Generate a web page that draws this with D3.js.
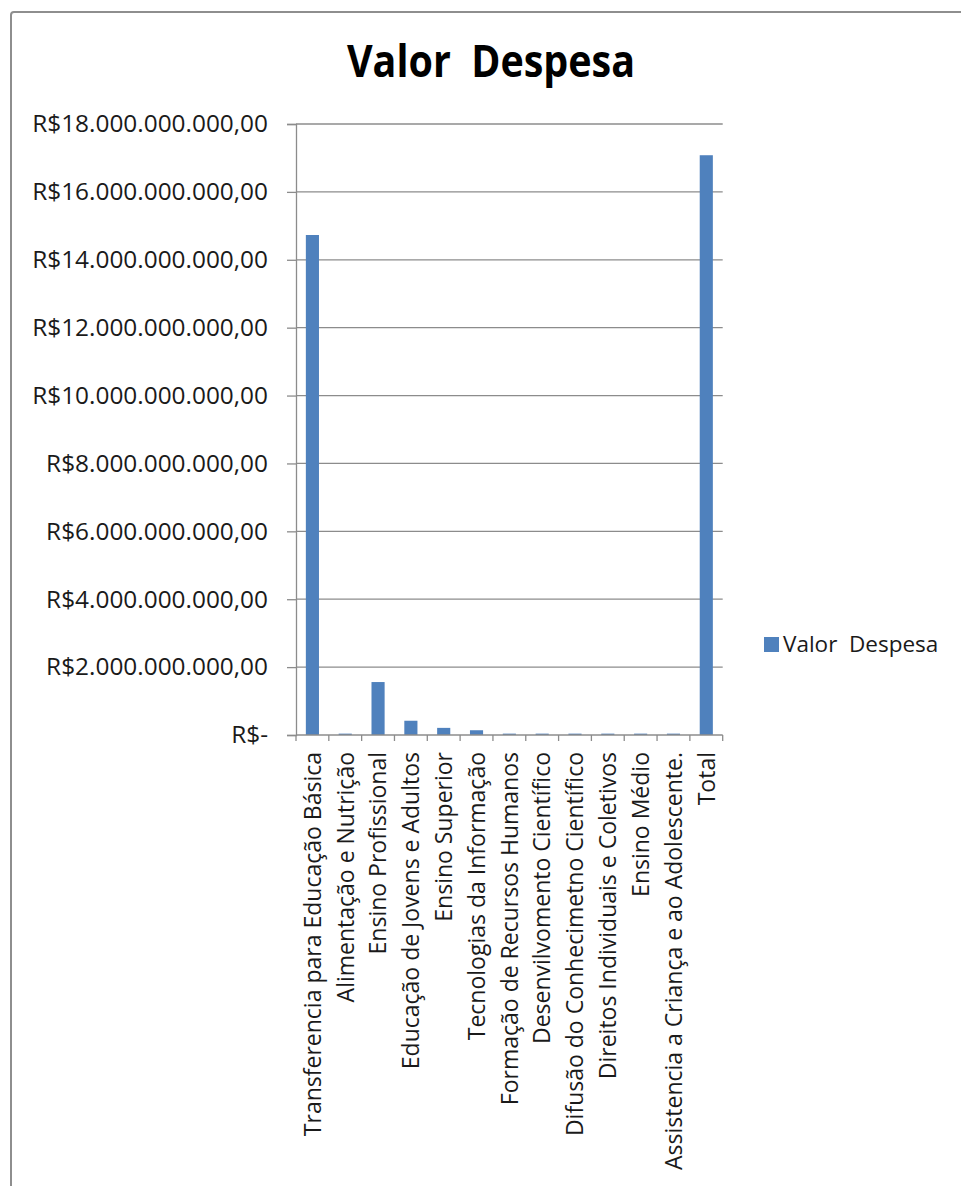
<!DOCTYPE html>
<html>
<head>
<meta charset="utf-8">
<script src="https://cdn.jsdelivr.net/npm/d3@7"></script>
<style>
  body { margin: 0; background: #fff; }
  svg { display: block; font-family: "Open Sans", sans-serif; }
  text { white-space: pre; }
</style>
</head>
<body>
<svg id="chart" width="961" height="1186"></svg>
<script>
var categories = [
	"Transferencia para Educação Básica",
	"Alimentação e Nutrição",
	"Ensino Profissional",
	"Educação de Jovens e Adultos",
	"Ensino Superior",
	"Tecnologias da Informação",
	"Formação de Recursos Humanos",
	"Desenvilvomento Científico",
	"Difusão do Conhecimetno Científico",
	"Direitos Individuais e Coletivos",
	"Ensino Médio",
	"Assistencia a Criança e ao Adolescente.",
	"Total"
];

var values = [
	14.73e9, 0.04e9, 1.56e9, 0.42e9, 0.21e9, 0.14e9, 0.04e9,
	0.04e9, 0.04e9, 0.04e9, 0.04e9, 0.04e9, 17.08e9
];

var yTicks = [0, 2e9, 4e9, 6e9, 8e9, 10e9, 12e9, 14e9, 16e9, 18e9];

var seriesName = "Valor  Despesa";
var chartTitle = "Valor  Despesa";

var barColor = "#4f81bd";
var gridColor = "#8c8c8c";

var svg = d3.select("#chart");

// frame round the chart area
svg.append("rect")
	.attr("x", 11)
	.attr("y", 12)
	.attr("width", 1000)
	.attr("height", 1300)
	.attr("rx", 3)
	.style("fill", "none")
	.style("stroke", "#8e8e8e")
	.style("stroke-width", 2);

var plotLeft = 296, plotRight = 722.7, plotTop = 124, plotBottom = 735;

var y = d3.scaleLinear()
	.domain([0, 18e9])
	.range([plotBottom, plotTop]);

var x = d3.scaleBand()
	.domain(categories)
	.range([plotLeft, plotRight])
	.paddingInner(0.6)
	.paddingOuter(0.3);

var ptBR = d3.formatLocale({
	decimal: ",",
	thousands: ".",
	grouping: [3],
	currency: ["R$", ""]
});
var money = ptBR.format("$,.2f");

var tickFormat = function(d) {
	return d === 0 ? "R$-" : money(d);
}

// gridlines
svg.append("g")
	.selectAll("line")
	.data(yTicks.slice(1))
	.enter()
	.append("line")
	.attr("x1", plotLeft)
	.attr("x2", plotRight)
	.attr("y1", function(d) { return y(d); })
	.attr("y2", function(d) { return y(d); })
	.style("stroke", gridColor)
	.style("stroke-width", 1.3);

// bars
svg.append("g")
	.selectAll("rect")
	.data(values)
	.enter()
	.append("rect")
	.attr("x", function(d, i) { return x(categories[i]); })
	.attr("width", x.bandwidth())
	.attr("y", function(d) { return y(d); })
	.attr("height", function(d) { return plotBottom - y(d); })
	.style("fill", barColor);

// y axis
var yAxis = svg.append("g")
	.attr("transform", "translate(" + plotLeft + ",0)")
	.call(d3.axisLeft(y).tickValues(yTicks).tickFormat(tickFormat).tickSize(9).tickPadding(19));

yAxis.select(".domain").style("stroke", gridColor).style("stroke-width", 1.3);
yAxis.selectAll(".tick line").style("stroke", gridColor).style("stroke-width", 1.3);
yAxis.selectAll(".tick text")
	.style("font-family", "Open Sans")
	.style("font-size", "24.4px")
	.style("fill", "#1a1a1a");

// x axis: baseline and ticks at category boundaries
var step = x.step();
var boundaries = d3.range(categories.length + 1).map(function(k) { return plotLeft + k * step; });

svg.append("line")
	.attr("x1", plotLeft)
	.attr("x2", plotRight)
	.attr("y1", plotBottom)
	.attr("y2", plotBottom)
	.style("stroke", gridColor)
	.style("stroke-width", 1.3);

svg.append("g")
	.selectAll("line")
	.data(boundaries)
	.enter()
	.append("line")
	.attr("x1", function(d) { return d; })
	.attr("x2", function(d) { return d; })
	.attr("y1", plotBottom)
	.attr("y2", plotBottom + 6)
	.style("stroke", gridColor)
	.style("stroke-width", 1.3);

svg.append("g")
	.selectAll("text")
	.data(categories)
	.enter()
	.append("text")
	.attr("transform", function(d) {
		return "translate(" + (x(d) + x.bandwidth() / 2) + "," + (plotBottom + 17) + ") rotate(-90)";
	})
	.attr("dy", "0.36em")
	.attr("text-anchor", "end")
	.style("font-size", "23px")
	.style("fill", "#1a1a1a")
	.text(function(d) { return d; });

// title
svg.append("text")
	.attr("x", 491)
	.attr("y", 77)
	.attr("text-anchor", "middle")
	.attr("textLength", 288)
	.attr("lengthAdjust", "spacingAndGlyphs")
	.style("font-size", "44px")
	.style("font-weight", "bold")
	.style("fill", "#000")
	.text(chartTitle);

// legend
var legend = svg.append("g").attr("transform", "translate(764,637)");
legend.append("rect")
	.attr("width", 15)
	.attr("height", 15)
	.style("fill", barColor);
legend.append("text")
	.attr("x", 19)
	.attr("y", 15)
	.style("font-size", "22.5px")
	.style("fill", "#1a1a1a")
	.text(seriesName);
</script>
</body>
</html>
